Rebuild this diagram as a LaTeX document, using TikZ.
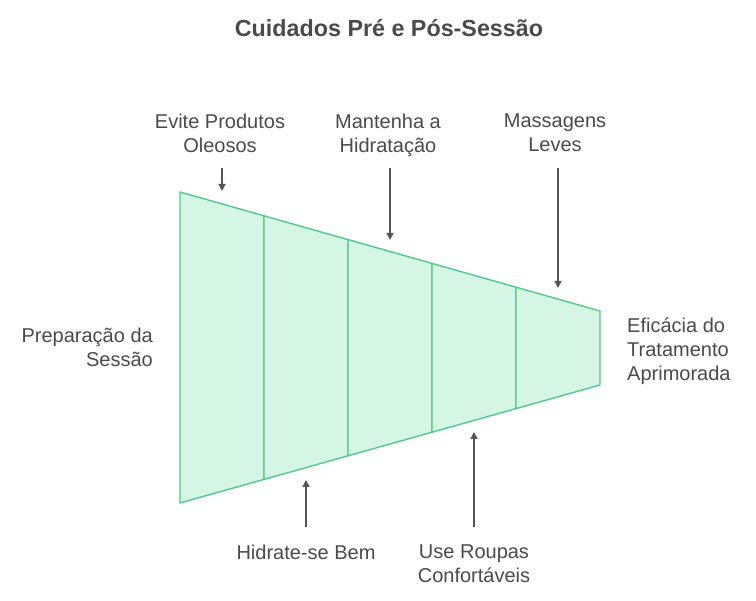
\documentclass[tikz,border=0pt]{standalone}
\usepackage{fontspec}
\setmainfont{Liberation Sans}
\usetikzlibrary{arrows.meta}
\definecolor{segfill}{HTML}{D5F6E5}
\definecolor{segline}{HTML}{4DCB8A}
\definecolor{txt}{HTML}{4A4A4A}
\definecolor{arr}{HTML}{555555}
\tikzset{
  seg/.style={fill=segfill, draw=segline, line width=1.4pt, line join=round},
  lbl/.style={text=txt, font=\fontsize{20}{24}\selectfont, inner sep=0pt, align=center},
  pointer/.style={draw=arr, line width=1.4pt, -{Triangle[length=7pt,width=7pt]}}
}
\begin{document}
\begin{tikzpicture}[x=1pt,y=-1pt]
\useasboundingbox (0,0) rectangle (756,601);
% funnel segments
\coordinate (t0) at (180,192); \coordinate (b0) at (180,503);
\coordinate (t1) at (264,215.8); \coordinate (b1) at (264,479.4);
\coordinate (t2) at (348,239.6); \coordinate (b2) at (348,455.8);
\coordinate (t3) at (432,263.4); \coordinate (b3) at (432,432.2);
\coordinate (t4) at (516,287.2); \coordinate (b4) at (516,408.6);
\coordinate (t5) at (600,311); \coordinate (b5) at (600,385);
\draw[seg] (t0) -- (t1) -- (b1) -- (b0) -- cycle;
\draw[seg] (t1) -- (t2) -- (b2) -- (b1) -- cycle;
\draw[seg] (t2) -- (t3) -- (b3) -- (b2) -- cycle;
\draw[seg] (t3) -- (t4) -- (b4) -- (b3) -- cycle;
\draw[seg] (t4) -- (t5) -- (b5) -- (b4) -- cycle;
% title
\node[text=txt, font=\bfseries\fontsize{23.3}{28}\selectfont, inner sep=0pt, anchor=base] (title) at (389,37) {Cuidados Pré e Pós-Sessão};
% labels
\node[lbl, anchor=north] (l1) at (220,113.4) {Evite Produtos\\Oleosos};
\node[lbl, anchor=north] (l2) at (388,113.4) {Mantenha a\\Hidratação};
\node[lbl, anchor=north] (l3) at (555,113.7) {Massagens\\Leves};
\node[lbl, anchor=north east, align=right] (l4) at (153,327.4) {Preparação da\\Sessão};
\node[lbl, anchor=north west, align=left] (l5) at (627,317.2) {Eficácia do\\Tratamento\\Aprimorada};
\node[lbl, anchor=north] (l6) at (306,544.4) {Hidrate-se Bem};
\node[lbl, anchor=north] (l7) at (474,544.7) {Use Roupas\\Confortáveis};
% arrows
\coordinate (a1s) at (222,168); \coordinate (a1e) at (222,191);
\coordinate (a2s) at (390,168); \coordinate (a2e) at (390,240);
\coordinate (a3s) at (558,168); \coordinate (a3e) at (558,288);
\coordinate (a6s) at (306,527); \coordinate (a6e) at (306,480);
\coordinate (a7s) at (474,527); \coordinate (a7e) at (474,432);
\draw[pointer] (a1s) -- (a1e);
\draw[pointer] (a2s) -- (a2e);
\draw[pointer] (a3s) -- (a3e);
\draw[pointer] (a6s) -- (a6e);
\draw[pointer] (a7s) -- (a7e);
\end{tikzpicture}
\end{document}
